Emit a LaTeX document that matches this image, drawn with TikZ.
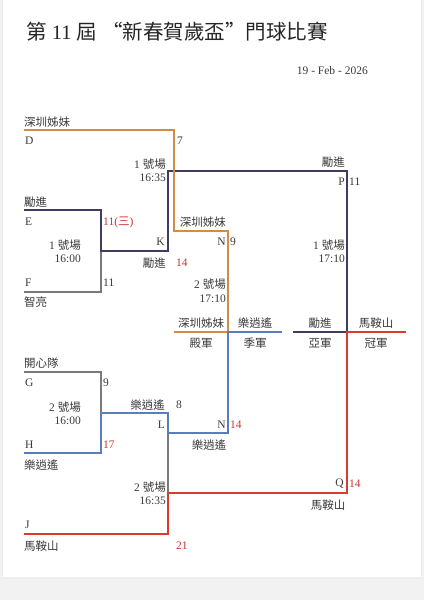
\documentclass[tikz,border=0pt]{standalone}
\usepackage{fontspec}
\setmainfont{Liberation Serif}
\newfontfamily\cjk{Noto Sans CJK TC}
\newfontfamily\cjkq[CharacterWidth=Full]{Noto Sans CJK TC}
\usepackage{xcolor}
\usepackage{tikz}
\usetikzlibrary{calc}

\definecolor{brOrange}{HTML}{D38B45}
\definecolor{brPurple}{HTML}{403C60}
\definecolor{brGray}{HTML}{7A7A7A}
\definecolor{brBlue}{HTML}{5A7EBB}
\definecolor{brRed}{HTML}{DC3A2E}
\definecolor{scoreRed}{HTML}{C8372D}
\definecolor{txt}{HTML}{3A3A3A}

\begin{document}
\begin{tikzpicture}[x=1pt, y=-1pt,
  lbl/.style={inner sep=0pt, text=txt, font=\fontsize{11.5}{13}\selectfont},
  score/.style={lbl, text=scoreRed},
  bline/.style={line width=1.6pt, line join=miter},
  gline/.style={line width=1.2pt, brGray}]

\useasboundingbox (0,0) rectangle (424,600);
\fill[black!5] (0,0) rectangle (424,600);
\fill[black!7] (2,-5) rectangle (422,579);
\fill[white] (3,-5) rectangle (421,577);

% x of the bracket columns
\def\xa{24}  \def\xb{101} \def\xc{168}
\def\xd{174} \def\xe{228} \def\xf{347}

% title and date
\node[inner sep=0pt, anchor=west, text=black!85, font=\fontsize{20.5}{24}\selectfont]
  (title) at (26,32) {{\cjk 第} 11 {\cjk 屆} {\cjkq “}{\cjk 新春賀歲盃}{\cjkq ”}{\cjk 門球比賽}};
\node[lbl, anchor=east] (date) at (368,71) {19 - Feb - 2026};

% corners
\coordinate (d0) at (\xa,130);  \coordinate (d1) at (\xd,130);
\coordinate (n0) at (\xd,231);  \coordinate (n1) at (\xe,231);
\coordinate (e0) at (\xa,210);  \coordinate (e1) at (\xb,210);
\coordinate (f0) at (\xa,292);  \coordinate (f1) at (\xb,292);
\coordinate (k0) at (\xb,251);  \coordinate (k1) at (\xc,251);
\coordinate (p0) at (\xc,171);  \coordinate (p1) at (\xf,171);
\coordinate (g0) at (\xa,372);  \coordinate (g1) at (\xb,372);
\coordinate (h0) at (\xa,453);  \coordinate (h1) at (\xb,453);
\coordinate (l0) at (\xb,413);  \coordinate (l1) at (\xc,413);
\coordinate (m0) at (\xc,433);  \coordinate (m1) at (\xe,433);
\coordinate (j0) at (\xa,534);  \coordinate (j1) at (\xc,534);
\coordinate (q0) at (\xc,493);  \coordinate (q1) at (\xf,493);
\coordinate (c3) at (\xe,332);  \coordinate (c3l) at (\xd,332);
\coordinate (c4) at (282,332);
\coordinate (c1) at (\xf,332);  \coordinate (c2l) at (293,332);
\coordinate (c1r) at (406,332);

% lines
\draw[gline] (f0) -- (f1) -- (k0);
\draw[gline] (g0) -- (g1) -- (l0);
\draw[gline] (m0) -- (q0);
\draw[bline, brPurple] (e0) -- (e1) -- (k0) -- (k1) -- (p0) -- (p1) -- (c1);
\draw[bline, brPurple] (c2l) -- (c1);
\draw[bline, brOrange] (d0) -- (d1) -- (n0) -- (n1) -- (c3);
\draw[bline, brOrange] (c3l) -- (c3);
\draw[bline, brBlue] (h0) -- (h1) -- (l0) -- (l1) -- (m0) -- (m1) -- (c3) -- (c4);
\draw[bline, brRed] (j0) -- (j1) -- (q0) -- (q1) -- (c1) -- (c1r);

% teams
\node[lbl, anchor=west] (tmD) at (\xa,122) {\cjk 深圳姊妹};
\node[lbl, anchor=west] (tmE) at (\xa,202) {\cjk 勵進};
\node[lbl, anchor=west] (tmF) at (\xa,302) {\cjk 智亮};
\node[lbl, anchor=west] (tmG) at (\xa,363) {\cjk 開心隊};
\node[lbl, anchor=west] (tmH) at (\xa,465) {\cjk 樂逍遙};
\node[lbl, anchor=west] (tmJ) at (\xa,546) {\cjk 馬鞍山};
\foreach \l/\y in {D/141, E/222, F/283, G/383, H/445, J/525}
  \node[lbl, anchor=west] (slot\l) at (25,\y) {\l};

% match K
\node[score, anchor=west] (scE) at (103,222) {11({\cjk 三})};
\node[lbl, anchor=west]   (scF) at (103,283) {11};
\node[lbl, anchor=east] (crtK) at (81,245) {1 {\cjk 號場}};
\node[lbl, anchor=east] (timK) at (81,259) {16:00};
\node[lbl, anchor=east] (slotK) at (165,242) {K};
\node[lbl, anchor=east] (winK) at (166,263) {\cjk 勵進};
\node[score, anchor=west] (scK) at (176,263) {14};

% match N (upper)
\node[lbl, anchor=west] (scD) at (177,141) {7};
\node[lbl, anchor=east] (crtP) at (166,164) {1 {\cjk 號場}};
\node[lbl, anchor=east] (timP) at (166,178) {16:35};
\node[lbl, anchor=east] (winP1) at (226,222) {\cjk 深圳姊妹};
\node[lbl, anchor=east] (slotN1) at (226,242) {N};
\node[lbl, anchor=west] (scN1) at (230,242) {9};
\node[lbl, anchor=east] (crtN) at (226,284) {2 {\cjk 號場}};
\node[lbl, anchor=east] (timN) at (226,299) {17:10};

% match P
\node[lbl, anchor=east] (winP) at (345,162) {\cjk 勵進};
\node[lbl, anchor=east] (slotP) at (345,182) {P};
\node[lbl, anchor=west] (scP) at (349,182) {11};
\node[lbl, anchor=east] (crtQ) at (345,245) {1 {\cjk 號場}};
\node[lbl, anchor=east] (timQ) at (345,259) {17:10};

% ranking
\node[lbl] (rk4) at (201,323) {\cjk 深圳姊妹};
\node[lbl] (pl4) at (201,343) {\cjk 殿軍};
\node[lbl] (rk3) at (255,323) {\cjk 樂逍遙};
\node[lbl] (pl3) at (255,343) {\cjk 季軍};
\node[lbl] (rk2) at (320,323) {\cjk 勵進};
\node[lbl] (pl2) at (320,343) {\cjk 亞軍};
\node[lbl] (rk1) at (376,323) {\cjk 馬鞍山};
\node[lbl] (pl1) at (376,343) {\cjk 冠軍};

% match L
\node[lbl, anchor=west]   (scG) at (103,383) {9};
\node[score, anchor=west] (scH) at (103,445) {17};
\node[lbl, anchor=east] (crtL) at (81,407) {2 {\cjk 號場}};
\node[lbl, anchor=east] (timL) at (81,421) {16:00};
\node[lbl, anchor=east] (winL) at (165,405) {\cjk 樂逍遙};
\node[lbl, anchor=west] (scL) at (176,405) {8};
\node[lbl, anchor=east] (slotL) at (165,425) {L};

% match N (lower)
\node[lbl, anchor=east] (slotN2) at (226,425) {N};
\node[score, anchor=west] (scN2) at (230,425) {14};
\node[lbl] (winN2) at (209,445) {\cjk 樂逍遙};

% match Q
\node[lbl, anchor=east] (crtJ) at (166,487) {2 {\cjk 號場}};
\node[lbl, anchor=east] (timJ) at (166,501) {16:35};
\node[lbl, anchor=east] (slotQ) at (344,484) {Q};
\node[score, anchor=west] (scQ) at (349,484) {14};
\node[lbl] (winQ) at (328,505) {\cjk 馬鞍山};
\node[score, anchor=west] (scJ) at (176,546) {21};

\end{tikzpicture}
\end{document}
